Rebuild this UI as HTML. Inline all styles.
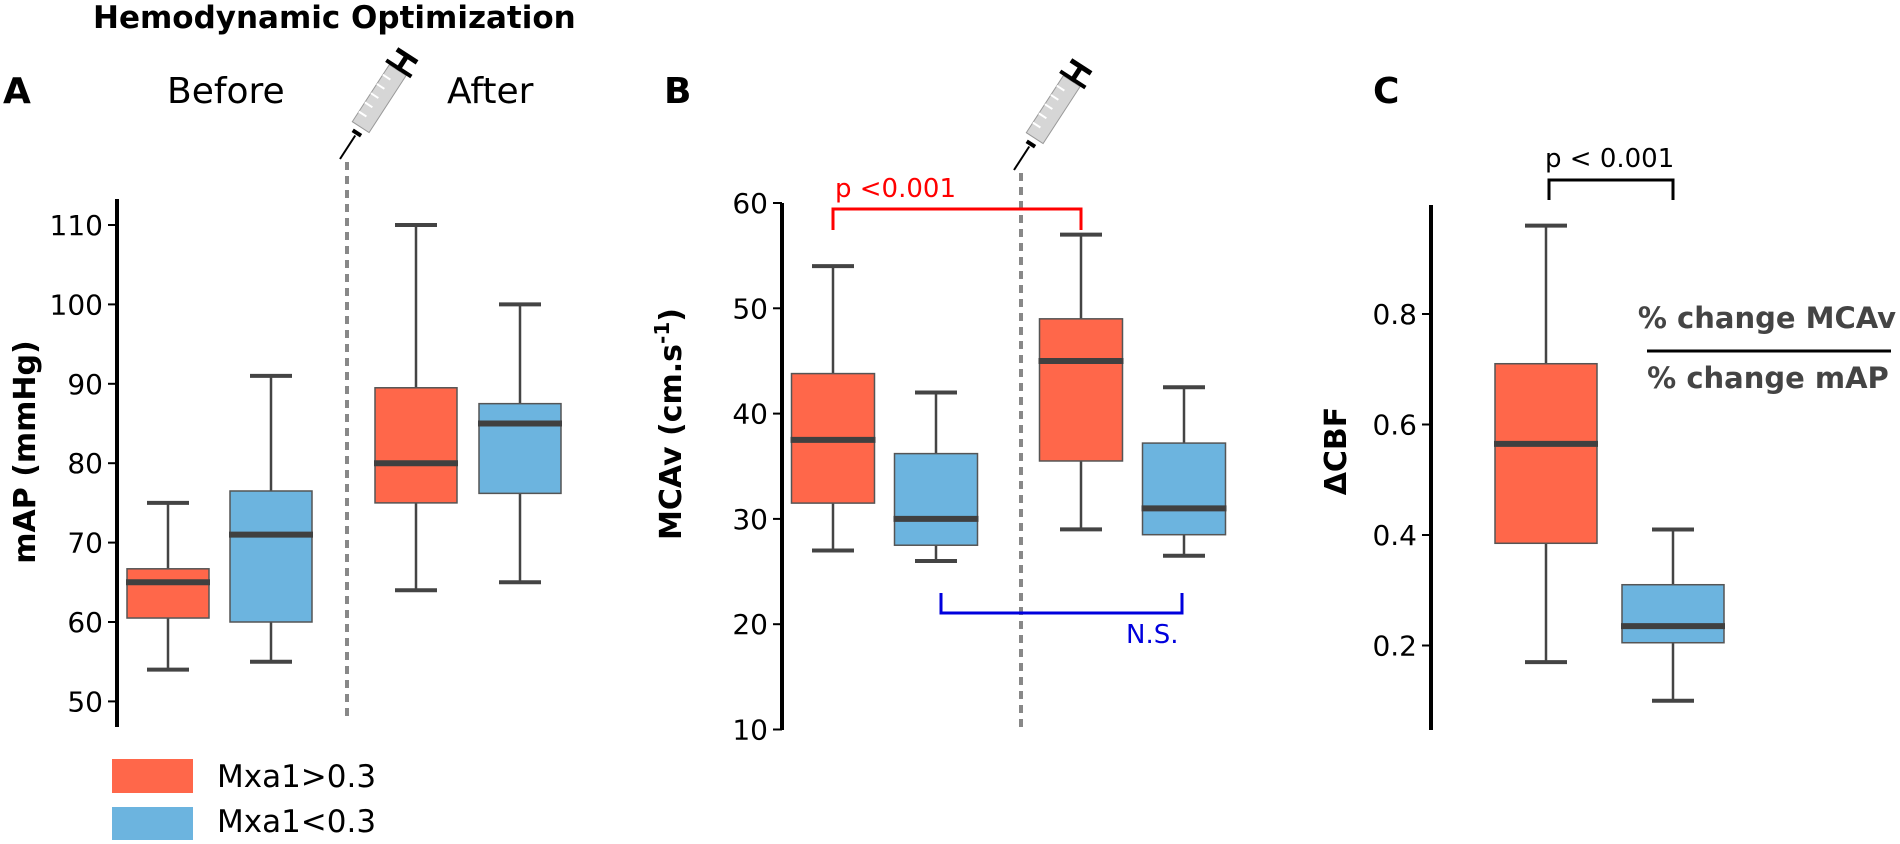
<!DOCTYPE html>
<html><head><meta charset="utf-8">
<style>
html,body{margin:0;padding:0;background:#fff;}
svg{display:block;font-family:"DejaVu Sans","Liberation Sans",sans-serif;}
</style></head>
<body>
<svg id="fig" width="1900" height="844" viewBox="0 0 1900 844" xmlns="http://www.w3.org/2000/svg">
<text x="93" y="28" font-size="31" font-weight="bold">Hemodynamic Optimization</text>
<text x="3" y="103" font-size="36" font-weight="bold">A</text>
<text x="167" y="103" font-size="36">Before</text>
<text x="447" y="103" font-size="36">After</text>
<text x="664" y="103" font-size="36" font-weight="bold">B</text>
<text x="1373" y="103" font-size="36" font-weight="bold">C</text>

<g id="syrA"></g>
<g id="syrB"></g>

<g id="plots"></g>

<text transform="translate(35,452) rotate(-90)" text-anchor="middle" font-size="30" font-weight="bold">mAP (mmHg)</text>
<text transform="translate(681,424) rotate(-90)" text-anchor="middle" font-size="30" font-weight="bold">MCAv (cm.s<tspan baseline-shift="super" font-size="20">-1</tspan>)</text>
<text transform="translate(1346,451) rotate(-90)" text-anchor="middle" font-size="30" font-weight="bold">ΔCBF</text>

<text x="835" y="197" font-size="26" fill="#ff0000">p &lt;0.001</text>
<text x="1126" y="643" font-size="26" fill="#0000dd">N.S.</text>
<text x="1545" y="167" font-size="26" fill="#000">p &lt; 0.001</text>

<text x="1767" y="328" text-anchor="middle" font-size="29" font-weight="bold" fill="#444">% change MCAv</text>
<line x1="1647" y1="351" x2="1891" y2="351" stroke="#000" stroke-width="3"/>
<text x="1768" y="388" text-anchor="middle" font-size="29" font-weight="bold" fill="#444">% change mAP</text>

<g>
<rect x="112" y="759" width="81" height="34" fill="#ff674a"/>
<text x="217" y="787" font-size="31">Mxa1&gt;0.3</text>
<rect x="112" y="807" width="81" height="33" fill="#6cb4df"/>
<text x="217" y="832" font-size="31">Mxa1&lt;0.3</text>
</g>
</svg>
<script>
// Panel A data (mAP)
const catsA = ["before-high","before-low","after-high","after-low"];
const minA = [54,55,64,65];
const q1A = [60.5,60,75,76.2];
const medA = [65,71,80,85];
const q3A = [66.7,76.5,89.5,87.5];
const maxA = [75,91,110,100];
const ticksA = [50,60,70,80,90,100,110];
// Panel B data (MCAv)
const catsB = ["before-high","before-low","after-high","after-low"];
const minB = [27,26,29,26.5];
const q1B = [31.5,27.5,35.5,28.5];
const medB = [37.5,30,45,31];
const q3B = [43.8,36.2,49,37.2];
const maxB = [54,42,57,42.5];
const ticksB = [10,20,30,40,50,60];
// Panel C data (dCBF)
const catsC = ["high","low"];
const minC = [0.17,0.10];
const q1C = [0.385,0.205];
const medC = [0.565,0.235];
const q3C = [0.71,0.31];
const maxC = [0.96,0.41];
const ticksC = [0.2,0.4,0.6,0.8];

const NS="http://www.w3.org/2000/svg";
const plots=document.getElementById('plots');
function mk(tag,attrs,parent){const e=document.createElementNS(NS,tag);for(const k in attrs)e.setAttribute(k,attrs[k]);(parent||plots).appendChild(e);return e;}
const colors=["#ff674a","#6cb4df"];

function yA(v){return 225+(110-v)*7.94;}
function yB(v){return 203+(60-v)*10.53;}
function yC(v){return 314+(0.8-v)*552.5;}
const xA=[168,271,416,520], xB=[833,936,1081,1184], xC=[1546,1673];

function axis(x,top,bot,ticks,yf,fmt,name){
  const l=mk('line',{x1:x,y1:top,x2:x,y2:bot,stroke:'#000','stroke-width':4});
  
  
  ticks.forEach(t=>{
    const y=yf(t);
    const tk=mk('line',{x1:x-9,y1:y,x2:x,y2:y,stroke:'#000','stroke-width':2});
    
    
    const tx=mk('text',{x:x-14,y:y+10,'text-anchor':'end','font-size':28});
    tx.textContent=fmt(t);
    
    
  });
}
function box(cx,w,mn,q1,md,q3,mx,yf,col,name){
  const g=mk('g',{});
  
  
  mk('line',{x1:cx,y1:yf(mx),x2:cx,y2:yf(q3),stroke:'#444','stroke-width':2.5},g);
  mk('line',{x1:cx,y1:yf(q1),x2:cx,y2:yf(mn),stroke:'#444','stroke-width':2.5},g);
  mk('line',{x1:cx-21,y1:yf(mx),x2:cx+21,y2:yf(mx),stroke:'#444','stroke-width':4},g);
  mk('line',{x1:cx-21,y1:yf(mn),x2:cx+21,y2:yf(mn),stroke:'#444','stroke-width':4},g);
  mk('rect',{x:cx-w/2,y:yf(q3),width:w,height:yf(q1)-yf(q3),fill:col,stroke:'#555','stroke-width':1.5},g);
  mk('line',{x1:cx-w/2-1,y1:yf(md),x2:cx+w/2+1,y2:yf(md),stroke:'#404040','stroke-width':6},g);
}
axis(117,199,727,ticksA,yA,t=>String(t),'y-axis-a');
axis(782,203,730,ticksB,yB,t=>String(t),'y-axis-b');
axis(1431,205,730,ticksC,yC,t=>t.toFixed(1),'y-axis-c');

const dA=mk('line',{x1:347,y1:162,x2:347,y2:716,stroke:'#888','stroke-width':4,'stroke-dasharray':'8,6'});


const dB=mk('line',{x1:1021,y1:173,x2:1021,y2:728,stroke:'#888','stroke-width':4,'stroke-dasharray':'8,6'});



catsA.forEach((c,i)=>box(xA[i],82,minA[i],q1A[i],medA[i],q3A[i],maxA[i],yA,colors[i%2],'box-a-'+c));
catsB.forEach((c,i)=>box(xB[i],83,minB[i],q1B[i],medB[i],q3B[i],maxB[i],yB,colors[i%2],'box-b-'+c));
catsC.forEach((c,i)=>box(xC[i],102,minC[i],q1C[i],medC[i],q3C[i],maxC[i],yC,colors[i],'box-c-'+c));

// brackets
const br1=mk('path',{d:`M${xB[0]} 230 V209 H${xB[2]} V230`,fill:'none',stroke:'#ff0000','stroke-width':3});


const br2=mk('path',{d:`M${xB[1]+5} 593 V613 H${xB[3]-2} V593`,fill:'none',stroke:'#0000dd','stroke-width':3});


const br3=mk('path',{d:`M1549 200 V180 H1673 V200`,fill:'none',stroke:'#000','stroke-width':3});



function syringe(id,dx,dy){
  const g=document.getElementById(id);
  g.setAttribute('transform',`translate(${dx},${dy})`);
  const s=document.createElementNS(NS,'g');
  s.setAttribute('transform','translate(340,159) rotate(-57)');
  g.appendChild(s);
  mk('line',{x1:0,y1:0,x2:28,y2:0,stroke:'#000','stroke-width':2},s);
  mk('line',{x1:31,y1:-5,x2:31,y2:5,stroke:'#000','stroke-width':4},s);
  mk('rect',{x:38,y:-10,width:68,height:20,fill:'#d6d6d6',stroke:'#999','stroke-width':1},s);
  for(let k=0;k<5;k++) mk('line',{x1:50+k*11,y1:-10,x2:50+k*11,y2:-1,stroke:'#fff','stroke-width':2},s);
  mk('line',{x1:106,y1:0,x2:122,y2:0,stroke:'#000','stroke-width':5},s);
  mk('line',{x1:108,y1:-15,x2:108,y2:15,stroke:'#000','stroke-width':4},s);
  mk('line',{x1:123,y1:-12,x2:123,y2:12,stroke:'#000','stroke-width':5},s);
}
syringe('syrA',0,0);
syringe('syrB',674,11);
</script>
</body></html>
